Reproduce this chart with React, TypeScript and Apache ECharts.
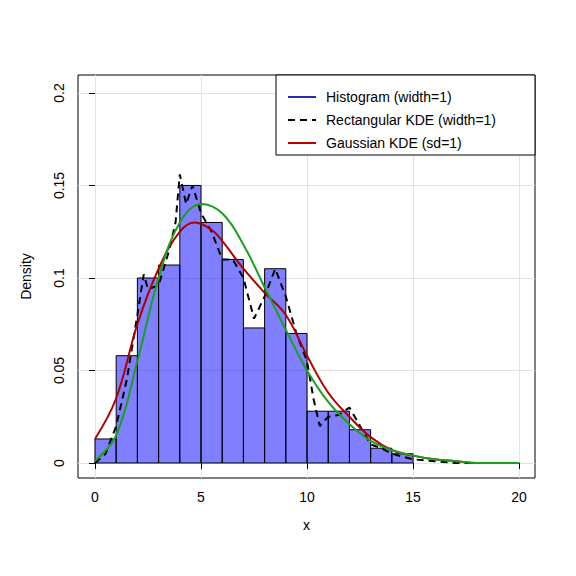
import React, { useEffect, useRef } from "react";
import * as echarts from "echarts";

const binStarts = [0, 1, 2, 3, 4, 5, 6, 7, 8, 9, 10, 11, 12, 13, 14];
const binDensity = [0.013, 0.058, 0.1, 0.107, 0.15, 0.13, 0.11, 0.073, 0.105, 0.07, 0.028, 0.028, 0.018, 0.008, 0.005];

const rectKde: [number, number][] = [
  [0, 0], [0.5, 0.005], [1, 0.02], [1.5, 0.045], [2, 0.08], [2.3, 0.102], [2.5, 0.094], [3, 0.096],
  [3.5, 0.115], [3.8, 0.13], [4, 0.156], [4.3, 0.14], [4.6, 0.15], [5, 0.135], [5.5, 0.125],
  [6, 0.11], [6.5, 0.11], [7, 0.1], [7.5, 0.078], [8, 0.09], [8.5, 0.105], [9, 0.09], [9.5, 0.07],
  [10, 0.055], [10.3, 0.035], [10.6, 0.02], [11, 0.025], [11.5, 0.026], [12, 0.03], [12.5, 0.02],
  [13, 0.01], [13.5, 0.008], [14, 0.005], [15, 0.002], [16, 0.001], [17, 0], [20, 0],
];
const gaussKde: [number, number][] = [
  [0, 0.013], [1, 0.035], [2, 0.075], [3, 0.105], [4, 0.125], [4.7, 0.13], [5.5, 0.126], [6, 0.12],
  [7, 0.105], [8, 0.092], [9, 0.08], [10, 0.058], [11, 0.038], [12, 0.025], [13, 0.014],
  [14, 0.007], [15, 0.004], [16, 0.002], [17, 0.001], [18, 0], [20, 0],
];
const fitCurve: [number, number][] = [
  [0, 0.001], [1, 0.015], [2, 0.055], [3, 0.1], [4, 0.13], [5, 0.14], [6, 0.135], [7, 0.118],
  [8, 0.095], [9, 0.072], [10, 0.05], [11, 0.033], [12, 0.021], [13, 0.012], [14, 0.007],
  [15, 0.004], [16, 0.002], [17, 0.001], [18, 0], [20, 0],
];
const xTicks = [0, 5, 10, 15, 20];
const yTicks = [0, 0.05, 0.1, 0.15, 0.2];
const legendItems = ["Histogram (width=1)", "Rectangular KDE (width=1)", "Gaussian KDE (sd=1)"];

const font = "Liberation Sans";

const App: React.FC = () => {
  const ref = useRef<HTMLDivElement>(null);

  useEffect(() => {
    if (!ref.current) return;
    const chart = echarts.init(ref.current, null, { renderer: "svg" });
    const legendColors = ["#2b2bb8", "#000", "#c00000"];
    const lx = 276, ly = 75;
    chart.setOption({
      animation: false,
      textStyle: { fontFamily: font },
      grid: { left: 78, right: 41, top: 75, bottom: 98, show: true, borderColor: "#000", borderWidth: 1 },
      xAxis: {
        type: "value", min: -0.8, max: 20.75,
        name: "x", nameLocation: "middle", nameGap: 40, nameTextStyle: { fontSize: 14, color: "#000" },
        axisLine: { show: false },
        axisTick: { show: true, inside: false, length: 6, customValues: xTicks, lineStyle: { color: "#000" } },
        axisLabel: { customValues: xTicks, fontSize: 14, color: "#000", margin: 12 },
        splitLine: { show: true, lineStyle: { color: "#e3e3e3" } },
      },
      yAxis: {
        type: "value", min: -0.0081, max: 0.2097,
        name: "Density", nameLocation: "middle", nameGap: 45, nameTextStyle: { fontSize: 14, color: "#000" },
        axisLine: { show: false },
        axisTick: { show: true, inside: false, length: 6, customValues: yTicks, lineStyle: { color: "#000" } },
        axisLabel: { customValues: yTicks, fontSize: 14, color: "#000", rotate: 90, margin: 12, formatter: (v: number) => String(+v.toFixed(2)) },
        splitLine: { show: true, lineStyle: { color: "#e3e3e3" } },
      },
      series: [
        {
          type: "custom",
          data: binStarts.map((s, i) => [s, binDensity[i]]),
          renderItem: (_p: any, api: any) => {
            const x0 = api.value(0);
            const y = api.value(1);
            const a = api.coord([x0, y]);
            const b = api.coord([x0 + 1, 0]);
            return {
              type: "rect",
              shape: { x: a[0], y: a[1], width: b[0] - a[0], height: b[1] - a[1] },
              style: { fill: "rgba(0,0,255,0.5)", stroke: "#000", lineWidth: 1 },
            };
          },
        },
        { type: "line", data: rectKde, showSymbol: false, lineStyle: { color: "#000", width: 2, type: [7, 5] } },
        { type: "line", data: gaussKde, smooth: 0.4, showSymbol: false, lineStyle: { color: "#b00000", width: 2 } },
        { type: "line", data: fitCurve, smooth: 0.4, showSymbol: false, lineStyle: { color: "#1aa01a", width: 2 } },
      ],
      graphic: [
        { type: "rect", shape: { x: lx, y: ly, width: 259, height: 80 }, style: { fill: "#fff", stroke: "#000", lineWidth: 1 }, z: 100 },
        ...legendItems.flatMap((t, i) => [
          {
            type: "line", z: 101,
            shape: { x1: lx + 12, y1: ly + 22 + i * 23, x2: lx + 40, y2: ly + 22 + i * 23 },
            style: { stroke: legendColors[i], lineWidth: 2, lineDash: i === 1 ? [7, 5] : undefined },
          },
          {
            type: "text", z: 101, x: lx + 50, y: ly + 22 + i * 23,
            style: { text: t, fontSize: 14, fontFamily: font, fill: "#000", verticalAlign: "middle" },
          },
        ]),
      ],
    });
    return () => chart.dispose();
  }, []);

  return <div ref={ref} style={{ width: 576, height: 576, margin: -8 }} />;
};

export default App;
